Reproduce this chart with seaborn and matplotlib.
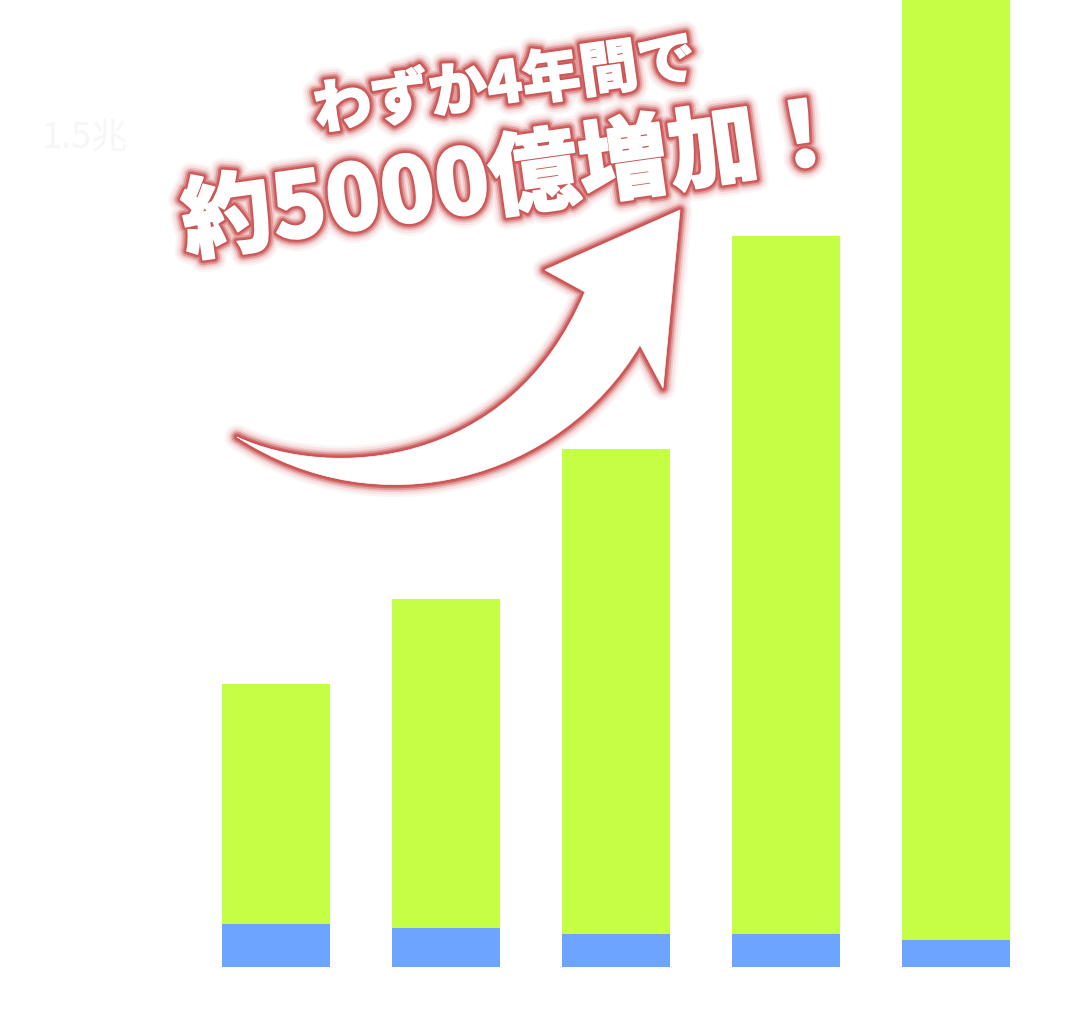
import matplotlib
matplotlib.use("Agg")
import matplotlib.pyplot as plt
import matplotlib.patheffects as pe
from matplotlib.path import Path
from matplotlib.patches import PathPatch
from matplotlib.transforms import Affine2D
import seaborn as sns
import pandas as pd

# ---- data (units: 億円) ----
categories = ["1年目", "2年目", "3年目", "4年目", "5年目"]
blue_values = [314, 285, 241, 241, 197]
green_values = [1755, 2405, 3546, 5103, 6873]
headline_small = "わずか4年間で"
headline_big = "約5000億増加！"
faint_label = "1.5兆"

GREEN = "#C5FF45"
BLUE = "#6CA4FF"
GLOW = (0.80, 0.33, 0.33)

totals = [b + g for b, g in zip(blue_values, green_values)]
df = pd.DataFrame({"category": categories, "blue": blue_values, "total": totals})

sns.set_theme(style="white")
plt.rcParams["font.family"] = ["Noto Sans CJK JP", "DejaVu Sans"]

W, H = 1079, 1023
fig = plt.figure(figsize=(W / 100, H / 100), dpi=100)
fig.patch.set_facecolor("white")
ax = fig.add_axes([0, 56 / H, 1, 967 / H])
ax.set_facecolor("white")

sns.barplot(data=df, x="category", y="total", color=GREEN, saturation=1,
            width=0.635, linewidth=0, ax=ax)
sns.barplot(data=df, x="category", y="blue", color=BLUE, saturation=1,
            width=0.635, linewidth=0, ax=ax)

ax.set_xlim(-276 / 170, (W - 276) / 170)
ax.set_ylim(0, 7070)
for s in ax.spines.values():
    s.set_visible(False)
ax.set_yticks([])
ax.set_xlabel("")
ax.set_ylabel("")
ax.tick_params(axis="x", length=0, colors="white", labelsize=14)

# faint label at left
fig.text(85 / W, 1 - 138 / H, faint_label, color="#f6f6f6", fontsize=26,
         ha="center", va="center")

def glow(base_lw, fatten=0.0):
    effects = []
    for lw, a in [(base_lw * 3.0, 0.06), (base_lw * 2.4, 0.10), (base_lw * 1.8, 0.20),
                  (base_lw * 1.35, 0.38), (base_lw * 0.9, 0.70), (base_lw * 0.55, 1.0)]:
        effects.append(pe.Stroke(linewidth=lw, foreground=GLOW, alpha=a,
                                 joinstyle="round", capstyle="round"))
    if fatten > 0:
        effects.append(pe.Stroke(linewidth=fatten, foreground="white",
                                 joinstyle="round", capstyle="round"))
    effects.append(pe.Normal())
    return effects

# ---- curved arrow (decoration, pixel coords with y down) ----
verts = [
    (237, 437),
    (330, 480), (510, 470), (585, 292),
    (545, 270),
    (680, 210),
    (663, 388),
    (640, 345),
    (560, 480), (380, 530), (237, 437),
    (237, 437),
]
codes = [Path.MOVETO,
         Path.CURVE4, Path.CURVE4, Path.CURVE4,
         Path.LINETO, Path.LINETO, Path.LINETO, Path.LINETO,
         Path.CURVE4, Path.CURVE4, Path.CURVE4,
         Path.CLOSEPOLY]
path = Path([(x, H - y) for x, y in verts], codes)
arrow = PathPatch(path, facecolor="white", edgecolor="white", linewidth=0.5)
arrow.set_transform(Affine2D().scale(1 / W, 1 / H) + fig.transFigure)
arrow.set_path_effects(glow(6))
fig.patches.append(arrow)

# ---- headline texts ----
fig.text(505 / W, 1 - 86 / H, headline_small, rotation=8, rotation_mode="anchor",
         ha="center", va="center", color="white", fontsize=42, fontweight="black",
         path_effects=glow(6, fatten=1.0))
fig.text(515 / W, 1 - 180 / H, headline_big, rotation=8, rotation_mode="anchor",
         ha="center", va="center", color="white", fontsize=65, fontweight="black",
         path_effects=glow(6, fatten=1.2))

fig.savefig("out.png", dpi=100, facecolor="white")
